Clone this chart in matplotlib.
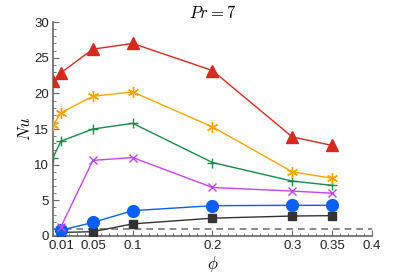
import matplotlib
matplotlib.use("Agg")
import matplotlib.pyplot as plt
from matplotlib.ticker import MultipleLocator

plt.rcParams['mathtext.fontset'] = 'cm'
plt.rcParams['font.family'] = ['Liberation Sans', 'DejaVu Sans']

# data
phi_full = [0.0, 0.01, 0.05, 0.1, 0.2, 0.3, 0.35]
phi_part = [0.01, 0.05, 0.1, 0.2, 0.3, 0.35]

nu_red = [21.7, 22.9, 26.2, 27.0, 23.2, 13.9, 12.7]
nu_orange = [15.5, 17.3, 19.6, 20.2, 15.3, 9.0, 8.1]
nu_green = [11.0, 13.3, 15.0, 15.8, 10.3, 7.7, 7.1]
nu_purple = [1.3, 10.6, 11.0, 6.8, 6.3, 6.0]
nu_blue = [0.8, 1.9, 3.55, 4.25, 4.3, 4.3]
nu_black = [0.5, 0.6, 1.7, 2.5, 2.8, 2.85]

ref_level = 1.0
xticks = [0.01, 0.05, 0.1, 0.2, 0.3, 0.35, 0.4]
xticklabels = ['0.01', '0.05', '0.1', '0.2', '0.3', '0.35', '0.4']

fig = plt.figure(figsize=(4.11, 2.76), dpi=100)
ax = fig.add_axes([0.129, 0.145, 0.776, 0.775])

ax.axhline(ref_level, color='#777777', lw=1.2, ls=(0, (4, 3)), zorder=1)

ax.plot(phi_part, nu_black, color='#333333', lw=1, marker='s', ms=6, zorder=3)
ax.plot(phi_part, nu_blue, color='#0a5ff0', lw=1, marker='o', ms=8.5, zorder=3)
ax.plot(phi_part, nu_purple, color='#c445f0', lw=1, marker='x', ms=5.5, mew=1, zorder=3)
ax.plot(phi_full, nu_green, color='#178a45', lw=1, marker='+', ms=7.5, mew=1, zorder=3)
ax.plot(phi_full, nu_orange, color='#ffa500', lw=1, marker=(6, 2, 0), ms=8, mew=1, zorder=3)
ax.plot(phi_full, nu_red, color='#d42a20', lw=1, marker='^', ms=9, zorder=3)

ax.set_xlim(0, 0.4)
ax.set_ylim(0, 30)
ax.set_xticks(xticks)
ax.set_xticklabels(xticklabels)
ax.xaxis.set_minor_locator(MultipleLocator(0.01))
ax.yaxis.set_major_locator(MultipleLocator(5))
ax.yaxis.set_minor_locator(MultipleLocator(1))

for s in ['top', 'right']:
    ax.spines[s].set_visible(False)
for s in ['left', 'bottom']:
    ax.spines[s].set_color('#666666')
    ax.spines[s].set_linewidth(1.2)

ax.tick_params(which='both', direction='in', colors='#666666', labelcolor='#222222')
ax.tick_params(which='major', length=4, labelsize=9.5, pad=3)
ax.tick_params(which='minor', length=2)

ax.set_xlabel(r'$\phi$', fontsize=12, labelpad=1)
ax.set_ylabel(r'$Nu$', fontsize=12, labelpad=1)
ax.set_title(r'$Pr = 7$', fontsize=12, pad=3)

fig.savefig('out.png', dpi=100)
